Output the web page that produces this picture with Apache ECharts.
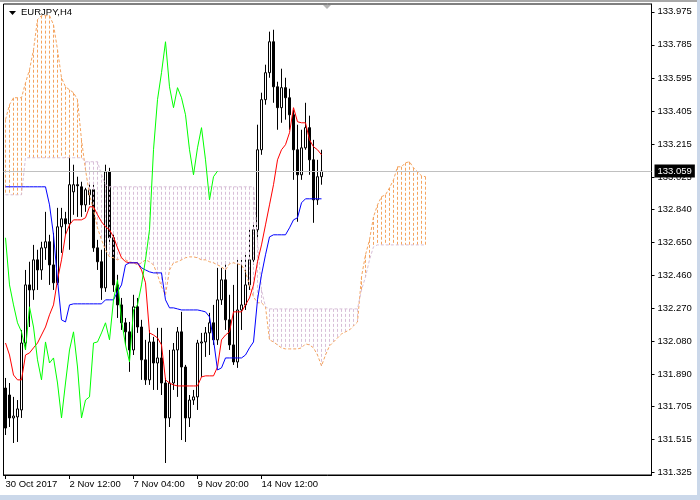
<!DOCTYPE html>
<html><head><meta charset="utf-8">
<script src="https://cdn.jsdelivr.net/npm/echarts@6/dist/echarts.min.js"></script>
<style>html,body{margin:0;padding:0;background:#fff}#c{width:700px;height:500px}</style>
</head><body><div id="c"></div>
<script>
// ---- data (EURJPY H4) ----
const opens = [131.812,131.772,131.640,131.646,131.686,132.071,132.405,132.376,132.549,132.491,
 132.618,132.653,132.520,132.417,132.739,132.785,132.756,132.940,132.981,132.969,
 132.865,132.923,132.952,132.618,132.538,132.388,133.055,132.676,132.405,132.290,
 132.187,132.135,132.031,132.279,132.163,131.974,131.859,132.077,131.956,131.985,
 131.841,131.640,131.841,132.031,132.135,131.933,131.640,131.743,131.761,132.071,
 132.077,132.129,132.187,132.089,132.319,132.434,132.204,132.060,131.962,132.261,
 132.290,132.405,132.549,132.722,133.182,133.470,133.625,133.803,133.544,133.424,
 133.539,133.481,133.383,133.182,133.038,133.193,133.309,133.124,132.894,133.027];
const highs = [131.870,131.841,131.761,131.743,132.146,132.491,132.538,132.635,132.607,132.653,
 132.825,132.693,132.704,132.848,132.848,132.825,133.142,133.096,133.027,132.998,
 132.963,132.992,132.981,132.664,132.607,133.096,133.078,132.710,132.463,132.330,
 132.215,132.192,132.348,132.330,132.204,132.089,132.146,132.106,132.158,132.158,
 131.870,132.031,132.071,132.163,132.250,131.945,131.772,131.801,132.089,132.129,
 132.163,132.244,132.290,132.503,132.503,132.538,132.348,132.405,132.549,132.549,
 132.578,132.722,132.750,133.326,133.510,133.671,133.861,133.872,133.573,133.648,
 133.596,133.533,133.412,133.326,133.297,133.452,133.378,133.239,133.124,133.182];
const lows = [131.542,131.588,131.496,131.502,131.640,132.031,132.163,132.319,132.376,132.434,
 132.549,132.405,132.376,132.405,132.589,132.693,132.607,132.808,132.796,132.796,
 132.825,132.865,132.595,132.491,132.319,132.365,132.635,132.365,132.215,132.146,
 132.060,131.905,132.002,132.129,131.859,131.830,131.830,131.801,131.801,131.772,
 131.381,131.588,131.801,131.761,131.513,131.502,131.588,131.715,131.686,131.876,
 131.991,132.002,132.060,132.060,132.290,132.146,132.031,131.945,131.928,132.146,
 132.261,132.376,132.520,132.647,133.153,133.441,133.596,133.452,133.297,133.337,
 133.355,133.297,133.009,132.768,133.009,133.182,133.038,132.762,132.865,132.981];
const closes = [131.582,131.640,131.651,131.692,132.071,132.405,132.376,132.549,132.491,132.618,
 132.653,132.520,132.417,132.739,132.785,132.756,132.981,132.981,132.975,132.865,
 132.952,132.952,132.618,132.538,132.388,133.055,132.676,132.405,132.290,132.187,
 132.135,132.031,132.279,132.163,131.974,131.859,132.077,131.956,131.985,131.841,
 131.640,131.841,132.031,132.135,131.933,131.640,131.743,131.761,132.071,132.077,
 132.129,132.187,132.089,132.319,132.434,132.204,132.060,131.962,132.261,132.290,
 132.405,132.549,132.722,133.182,133.470,133.625,133.803,133.544,133.424,133.539,
 133.481,133.383,133.182,133.038,133.193,133.309,133.124,132.894,133.027,133.059];
const tenkan = [132.071,132.002,131.887,131.859,131.859,132.002,132.014,132.043,132.071,132.117,
 132.163,132.233,132.290,132.434,132.549,132.693,132.750,132.779,132.779,132.779,
 132.791,132.854,132.854,132.808,132.768,132.739,132.722,132.681,132.618,132.561,
 132.538,132.532,132.532,132.532,132.491,132.417,132.129,132.117,132.100,132.060,
 131.859,131.841,131.830,131.824,131.824,131.824,131.824,131.824,131.824,131.876,
 131.882,131.882,131.882,131.933,132.089,132.117,132.135,132.250,132.250,132.250,
 132.290,132.330,132.405,132.538,132.635,132.750,132.865,132.981,133.124,133.182,
 133.211,133.280,133.424,133.343,133.337,133.337,133.239,133.199,133.182,133.153];
const kijun = [132.969,132.969,132.969,132.969,132.969,132.969,132.969,132.969,132.969,132.969,
 132.969,132.865,132.693,132.434,132.204,132.192,132.290,132.296,132.296,132.296,
 132.296,132.296,132.296,132.296,132.296,132.319,132.319,132.319,132.365,132.405,
 132.520,132.532,132.532,132.532,132.503,132.491,132.480,132.474,132.474,132.474,
 132.319,132.273,132.273,132.267,132.261,132.261,132.261,132.261,132.261,132.256,
 132.250,132.221,132.089,131.916,131.928,131.985,131.985,131.985,131.985,131.985,
 132.002,132.043,132.077,132.319,132.463,132.578,132.681,132.693,132.693,132.693,
 132.693,132.733,132.779,132.791,132.877,132.900,132.900,132.900,132.900,132.900];
const chikou = [132.676,132.405,132.290,132.187,132.135,132.031,132.279,132.163,131.974,131.859,
 132.077,131.956,131.985,131.841,131.640,131.841,132.031,132.135,131.933,131.640,
 131.743,131.761,132.071,132.077,132.129,132.187,132.089,132.319,132.434,132.204,
 132.060,131.962,132.261,132.290,132.405,132.549,132.722,133.182,133.470,133.625,
 133.803,133.544,133.424,133.539,133.481,133.383,133.182,133.038,133.193,133.309,
 133.124,132.894,133.027,133.059];
const senkouA = [133.355,133.441,133.481,133.481,133.481,133.567,133.642,133.757,133.930,133.953,
 133.953,133.953,133.901,133.757,133.596,133.544,133.527,133.510,133.470,133.239,
 133.067,132.923,132.837,132.733,132.664,132.607,132.566,132.561,132.549,132.561,
 132.549,132.538,132.532,132.520,132.532,132.549,132.538,132.520,132.463,132.394,
 132.348,132.491,132.532,132.538,132.549,132.561,132.566,132.566,132.561,132.549,
 132.549,132.538,132.532,132.520,132.509,132.491,132.526,132.532,132.526,132.520,
 132.480,132.405,132.336,132.302,132.302,132.279,132.089,132.077,132.060,132.043,
 132.037,132.037,132.037,132.037,132.043,132.066,132.060,132.043,132.002,131.939,
 132.002,132.054,132.077,132.100,132.123,132.135,132.146,132.169,132.192,132.451,
 132.578,132.664,132.796,132.865,132.912,132.923,132.963,133.009,133.084,133.084,
 133.107,133.113,133.078,133.055,133.032,133.027];
const senkouB = [132.923,132.923,132.923,132.923,132.923,133.136,133.136,133.136,133.136,133.136,
 133.136,133.136,133.136,133.136,133.136,133.136,133.136,133.136,133.136,133.136,
 133.113,133.113,133.113,133.113,133.038,132.981,132.969,132.969,132.969,132.969,
 132.969,132.969,132.969,132.969,132.969,132.969,132.969,132.969,132.969,132.969,
 132.969,132.969,132.969,132.969,132.969,132.969,132.969,132.969,132.969,132.969,
 132.969,132.969,132.969,132.969,132.969,132.969,132.969,132.969,132.969,132.969,
 132.969,132.969,132.969,132.664,132.376,132.279,132.267,132.267,132.267,132.267,
 132.267,132.267,132.267,132.267,132.267,132.267,132.267,132.267,132.267,132.267,
 132.267,132.267,132.267,132.267,132.267,132.267,132.267,132.267,132.267,132.376,
 132.451,132.549,132.624,132.635,132.635,132.635,132.635,132.635,132.635,132.635,
 132.635,132.635,132.635,132.635,132.635,132.635];
const xTickBars = [0, 16, 32, 48, 64];
const xTickLabels = ['30 Oct 2017', '2 Nov 12:00', '7 Nov 04:00', '9 Nov 20:00', '14 Nov 12:00'];
const yTickValues = [131.325,131.515,131.705,131.890,132.080,132.270,132.460,132.650,132.840,133.025,133.215,133.405,133.595,133.785,133.975];
const lastPrice = 133.059;
const barSlots = 162;
const symbolTitle = 'EURJPY,H4';

// ---- chart ----
const FONT = 'Liberation Sans';
const SANDY = '#F4A460', THISTLE = '#D8BFD8';
const cats = [];
for (let i = 0; i < barSlots; i++) cats.push(String(i));
const candles = opens.map((o, i) => [o, closes[i], lows[i], highs[i]]);
// Kumo hatching: one vertical dotted segment per bar between Span A and Span B
const hatchUp = [], hatchDown = [];
senkouA.forEach((a, i) => {
  const b = senkouB[i];
  const seg = {coords: [[i, Math.max(a, b)], [i, Math.min(a, b)]]};
  (a >= b ? hatchUp : hatchDown).push(seg);
});
const isTick = (i) => xTickBars.indexOf(i) >= 0;
function hatchSeries(data, col) {
  return {
    type: 'lines', coordinateSystem: 'cartesian2d', data: data, z: 3, silent: true,
    color: col, polyline: false, symbol: ['none', 'none'],
    itemStyle: {color: col},
    lineStyle: {color: col, width: 1, type: [3, 2], opacity: 1, curveness: 0}
  };
}

const chart = echarts.init(document.getElementById('c'), null, {renderer: 'canvas'});
chart.setOption({
  animation: false,
  backgroundColor: '#fff',
  title: {text: symbolTitle, left: 16, top: 2, textStyle: {fontFamily: FONT, fontSize: 9.5, fontWeight: 'normal', color: '#000'}},
  grid: {left: 3.5, right: 48.5, top: 4, bottom: 25, show: true, borderColor: '#000', borderWidth: 1, backgroundColor: '#fff'},
  xAxis: {
    type: 'category', data: cats, boundaryGap: true,
    axisLine: {show: true, lineStyle: {color: '#000', width: 1}},
    axisTick: {show: true, alignWithLabel: true, length: 4, interval: (i) => isTick(i), lineStyle: {color: '#000'}},
    axisLabel: {interval: (i) => isTick(i), formatter: (v) => xTickLabels[xTickBars.indexOf(parseInt(v, 10))] || '',
      align: 'left', margin: 4, color: '#000', fontSize: 9.5, fontFamily: FONT},
    splitLine: {show: false}
  },
  yAxis: {
    type: 'value', position: 'right', min: 131.312, max: 134.020, scale: true,
    splitLine: {show: false},
    axisLine: {show: true, lineStyle: {color: '#000'}},
    axisTick: {show: true, length: 3, customValues: yTickValues, lineStyle: {color: '#000'}},
    axisLabel: {customValues: yTickValues, formatter: (v) => v.toFixed(3), margin: 6, color: '#000', fontSize: 9.5, fontFamily: FONT}
  },
  series: [
    {
      type: 'candlestick', data: candles, barWidth: 2, z: 2,
      itemStyle: {color: '#fff', color0: '#000', borderColor: '#000', borderColor0: '#000', borderWidth: 1}
    },
    hatchSeries(hatchUp, SANDY),
    hatchSeries(hatchDown, THISTLE),
    {type: 'line', data: senkouA, z: 4, symbol: 'none', itemStyle: {color: SANDY}, lineStyle: {color: SANDY, width: 1, type: [3, 2]}},
    {type: 'line', data: senkouB, z: 4, symbol: 'none', itemStyle: {color: THISTLE}, lineStyle: {color: THISTLE, width: 1, type: [3, 2]}},
    {type: 'line', data: tenkan, z: 5, symbol: 'none', itemStyle: {color: '#FF0000'}, lineStyle: {color: '#FF0000', width: 1}},
    {type: 'line', data: kijun, z: 5, symbol: 'none', itemStyle: {color: '#0000FF'}, lineStyle: {color: '#0000FF', width: 1}},
    {
      type: 'line', data: chikou, z: 5, symbol: 'none', clip: false, itemStyle: {color: '#00FF00'}, lineStyle: {color: '#00FF00', width: 1},
      markLine: {
        silent: true, symbol: ['none', 'none'], animation: false,
        data: [{yAxis: lastPrice}],
        lineStyle: {color: '#C0C0C0', type: 'solid', width: 1},
        label: {show: true, position: 'end', distance: 3, formatter: lastPrice.toFixed(3),
          backgroundColor: '#000', color: '#fff', padding: [2, 3, 1, 3], fontSize: 9.5, fontFamily: FONT}
      }
    }
  ],
  graphic: [
    {type: 'rect', silent: true, shape: {x: 0, y: 0, width: 700, height: 2}, style: {fill: '#a8a8a8'}},
    {type: 'polygon', silent: true, shape: {points: [[9, 11], [16, 11], [12.5, 15]]}, style: {fill: '#000'}},
    {type: 'polygon', silent: true, shape: {points: [[323, 5], [331, 5], [327, 9]]}, style: {fill: '#b4b4b4'}},
    {type: 'rect', silent: true, shape: {x: 697, y: 0, width: 3, height: 500}, style: {fill: '#cbd8ea'}},
    {type: 'rect', silent: true, shape: {x: 0, y: 495, width: 700, height: 5}, style: {fill: '#cbd8ea'}}
  ]
});
</script>
</body></html>
